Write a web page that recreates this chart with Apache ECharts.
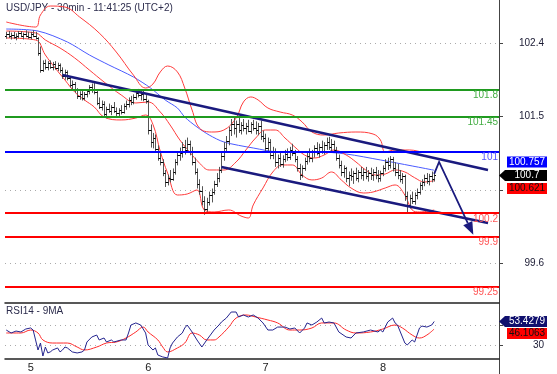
<!DOCTYPE html>
<html><head><meta charset="utf-8">
<script src="https://cdn.jsdelivr.net/npm/echarts@6/dist/echarts.min.js"></script>
<style>html,body{margin:0;padding:0;background:#fff}#c{width:557px;height:374px}</style>
</head><body><div id="c"></div>
<script>
const chartTitle = 'USD/JPY - 30min - 11:41:25 (UTC+2)';
const rsiTitle = 'RSI14 - 9MA';
const startDay = 4, startHour = 20, slotCount = 202;
const dayLabels = ['5', '6', '7', '8'];
const priceTicks = [99.55, 100.5, 101.45, 102.4];
const priceTickLabels = [99.55, 101.45, 102.4];
const rsiTicks = [30, 50];
const rsiTickLabels = [30];
const levelValues = [101.8, 101.45, 101, 100.2, 99.9, 99.25];
const levelLabels = ['101.8', '101.45', '101', '100.2', '99.9', '99.25'];
const levelKinds = ['res', 'res', 'pivot', 'sup', 'sup', 'sup'];
// [open, high, low, close]
const ohlc = [
[102.50,102.55,102.46,102.52],[102.52,102.56,102.47,102.49],[102.49,102.54,102.45,102.51],[102.51,102.55,102.46,102.48],
[102.48,102.53,102.44,102.50],[102.50,102.56,102.47,102.53],[102.53,102.56,102.48,102.49],[102.49,102.54,102.45,102.52],
[102.52,102.57,102.48,102.50],[102.50,102.55,102.46,102.48],[102.48,102.55,102.45,102.52],[102.52,102.57,102.48,102.50],
[102.50,102.55,102.45,102.47],[102.47,102.48,102.24,102.28],[102.28,102.36,102.02,102.06],[102.06,102.18,102.03,102.14],
[102.14,102.19,102.06,102.10],[102.10,102.17,102.05,102.15],[102.15,102.18,102.07,102.09],[102.09,102.16,102.05,102.13],
[102.13,102.17,102.06,102.08],[102.08,102.15,102.04,102.12],[102.12,102.14,102.02,102.05],[102.05,102.09,101.94,101.98],
[101.98,102.06,101.93,102.03],[102.03,102.05,101.92,101.95],[101.95,101.97,101.83,101.86],[101.86,101.92,101.80,101.88],
[101.88,101.90,101.76,101.79],[101.79,101.82,101.68,101.72],[101.72,101.78,101.67,101.75],[101.75,101.79,101.66,101.69],
[101.69,101.77,101.66,101.74],[101.74,101.80,101.70,101.78],[101.78,101.86,101.74,101.83],[101.83,101.88,101.76,101.79],
[101.79,101.90,101.74,101.77],[101.77,101.79,101.60,101.63],[101.63,101.70,101.55,101.58],[101.58,101.66,101.53,101.62],
[101.62,101.65,101.45,101.49],[101.49,101.58,101.43,101.55],[101.55,101.62,101.50,101.53],[101.53,101.60,101.47,101.58],
[101.58,101.64,101.50,101.52],[101.52,101.57,101.46,101.50],[101.50,101.56,101.45,101.54],[101.54,101.60,101.48,101.51],
[101.51,101.62,101.49,101.59],[101.59,101.66,101.54,101.62],[101.62,101.70,101.57,101.67],[101.67,101.72,101.60,101.64],
[101.64,101.74,101.61,101.71],[101.71,101.79,101.67,101.76],[101.76,101.81,101.70,101.73],[101.73,101.78,101.66,101.75],
[101.75,101.79,101.65,101.68],[101.68,101.73,101.62,101.66],[101.66,101.67,101.22,101.28],[101.28,101.35,101.05,101.12],
[101.12,101.24,101.04,101.18],[101.18,101.22,101.00,101.03],[101.03,101.08,100.88,100.92],[100.92,100.98,100.82,100.86],
[100.86,100.90,100.68,100.72],[100.72,100.76,100.54,100.60],[100.60,100.70,100.56,100.66],[100.66,100.76,100.60,100.64],
[100.64,100.78,100.62,100.74],[100.74,100.90,100.70,100.86],[100.86,101.00,100.82,100.95],[100.95,101.05,100.88,100.98],
[100.98,101.12,100.92,101.06],[101.06,101.15,100.96,101.02],[101.02,101.18,100.98,101.10],[101.10,101.14,100.95,100.99],
[100.99,101.06,100.82,100.86],[100.86,100.92,100.70,100.74],[100.74,100.78,100.52,100.58],[100.58,100.64,100.44,100.49],
[100.49,100.55,100.30,100.36],[100.36,100.42,100.18,100.26],[100.26,100.40,100.22,100.34],[100.34,100.48,100.30,100.44],
[100.44,100.52,100.34,100.48],[100.48,100.62,100.44,100.58],[100.58,100.72,100.54,100.66],[100.66,100.80,100.60,100.76],
[100.76,100.98,100.72,100.94],[100.94,101.12,100.88,101.05],[101.05,101.20,101.00,101.14],[101.14,101.32,101.08,101.28],
[101.28,101.42,101.20,101.36],[101.36,101.44,101.22,101.30],[101.30,101.40,101.18,101.35],[101.35,101.44,101.24,101.28],
[101.28,101.38,101.22,101.34],[101.34,101.42,101.26,101.30],[101.30,101.37,101.22,101.33],[101.33,101.41,101.25,101.27],
[101.27,101.38,101.23,101.35],[101.35,101.41,101.27,101.31],[101.31,101.39,101.22,101.28],[101.28,101.37,101.21,101.33],
[101.33,101.40,101.15,101.20],[101.20,101.27,101.12,101.17],[101.17,101.23,100.99,101.05],[101.05,101.18,100.98,101.12],
[101.12,101.16,100.90,100.96],[100.96,101.06,100.90,101.01],[101.01,101.04,100.80,100.86],[100.86,100.96,100.78,100.92],
[100.92,100.98,100.80,100.84],[100.84,100.95,100.79,100.90],[100.90,101.02,100.86,100.97],[100.97,101.04,100.88,100.93],
[100.93,101.06,100.89,101.02],[101.02,101.10,100.94,100.98],[100.98,101.02,100.86,100.90],[100.90,100.94,100.74,100.78],
[100.78,100.84,100.63,100.70],[100.70,100.82,100.66,100.79],[100.79,100.92,100.75,100.88],[100.88,100.98,100.83,100.94],
[100.94,101.04,100.86,100.91],[100.91,101.02,100.86,100.99],[100.99,101.08,100.92,101.04],[101.04,101.12,100.95,100.98],
[100.98,101.10,100.92,101.06],[101.06,101.14,100.97,101.01],[101.01,101.12,100.96,101.08],[101.08,101.18,101.02,101.12],
[101.12,101.19,101.02,101.06],[101.06,101.16,101.00,101.10],[101.10,101.14,100.98,101.02],[101.02,101.06,100.88,100.92],
[100.92,100.96,100.78,100.82],[100.82,100.88,100.68,100.74],[100.74,100.82,100.66,100.78],[100.78,100.80,100.60,100.66],
[100.66,100.74,100.55,100.70],[100.70,100.78,100.62,100.68],[100.68,100.75,100.58,100.72],[100.72,100.79,100.62,100.66],
[100.66,100.76,100.60,100.73],[100.73,100.80,100.64,100.70],[100.70,100.78,100.62,100.74],[100.74,100.80,100.64,100.68],
[100.68,100.76,100.61,100.72],[100.72,100.79,100.63,100.69],[100.69,100.77,100.62,100.74],[100.74,100.80,100.64,100.70],
[100.70,100.76,100.60,100.66],[100.66,100.75,100.61,100.72],[100.72,100.82,100.68,100.78],[100.78,100.90,100.74,100.86],
[100.86,100.92,100.76,100.82],[100.82,100.94,100.78,100.90],[100.90,100.93,100.74,100.78],[100.78,100.86,100.68,100.74],
[100.74,100.84,100.64,100.70],[100.70,100.76,100.60,100.64],[100.64,100.72,100.58,100.68],[100.68,100.70,100.36,100.42],
[100.42,100.48,100.21,100.30],[100.30,100.44,100.26,100.40],[100.40,100.48,100.32,100.36],[100.36,100.47,100.31,100.44],
[100.44,100.52,100.38,100.48],[100.48,100.60,100.44,100.56],[100.56,100.64,100.50,100.60],[100.60,100.70,100.55,100.66],
[100.66,100.72,100.58,100.62],[100.62,100.71,100.56,100.68],[100.68,100.74,100.60,100.64],[100.64,100.73,100.61,100.70]
];
// Bollinger bands and moving average, [bar index, price]
const bbUpper = [[0,102.677],[12,102.612],[14,102.768],[18,102.884],[24,102.871],[30,102.742],[38,102.535],[45,102.288],[52,101.99],[57,101.822],[60,101.874],[63,102.03],[66,102.107],[70,102.03],[73,101.822],[76,101.537],[79,101.304],[84,101.252],[89,101.278],[94,101.433],[97,101.641],[100,101.706],[103,101.667],[107,101.563],[112,101.511],[117,101.472],[121,101.382],[125,101.252],[130,101.213],[136,101.239],[143,101.252],[150,101.226],[153,101.149],[155,100.993],[159,101.019],[165,101.019],[171,100.993],[175,100.993]];
const bbMiddle = [[0,102.56],[12,102.535],[16,102.444],[22,102.34],[28,102.211],[34,102.055],[40,101.9],[47,101.732],[53,101.628],[58,101.641],[63,101.511],[67,101.343],[71,101.149],[75,100.993],[79,100.851],[83,100.76],[89,100.76],[94,100.864],[98,101.019],[102,101.174],[106,101.278],[110,101.278],[114,101.174],[118,101.058],[122,100.954],[126,100.915],[130,100.954],[134,101.019],[139,100.954],[143,100.864],[147,100.76],[151,100.695],[155,100.708],[159,100.76],[163,100.734],[167,100.66],[171,100.605],[175,100.621]];
const bbLower = [[0,102.47],[12,102.444],[16,102.25],[20,102.081],[24,101.926],[28,101.77],[32,101.667],[36,101.576],[40,101.446],[47,101.408],[53,101.433],[57,101.472],[60,101.35],[63,101.0],[66,100.72],[70,100.436],[74,100.449],[78,100.501],[81,100.242],[85,100.216],[91,100.242],[96,100.164],[99,100.138],[101,100.307],[105,100.527],[109,100.734],[113,100.825],[117,100.825],[121,100.695],[125,100.631],[129,100.656],[133,100.734],[137,100.631],[141,100.527],[146,100.462],[150,100.475],[155,100.527],[159,100.566],[163,100.436],[166,100.242],[169,100.216],[175,100.242]];
const maSlow = [[0,102.586],[13,102.56],[25,102.418],[34,102.25],[42,102.12],[52,101.965],[59,101.822],[65,101.667],[70,101.563],[73,101.446],[78,101.317],[83,101.213],[89,101.123],[101,101.045],[112,100.993],[128,100.993],[139,100.967],[153,100.89],[166,100.812],[175,100.757]];
const upperChannel = [[23,101.99],[197,100.76]];
const lowerChannel = [[88,100.798],[197,100.073]];
const arrowPath = [[175,100.71],[177,100.864],[191,99.92]];
const rsi = [[0,45.1],[2,42.2],[4,44.1],[6,43.2],[8,46.1],[10,47.1],[11,45.1],[12,35.4],[13,25.6],[14,32.4],[15,19.7],[16,28.5],[17,22.7],[18,23.7],[19,25.6],[21,27.6],[22,23.7],[23,25.6],[24,28.5],[25,27.6],[27,23.7],[29,22.7],[31,23.7],[32,25.6],[33,33.4],[35,38.3],[37,40.2],[38,35.4],[40,37.3],[41,33.4],[43,35.4],[44,33.4],[47,35.4],[49,35.4],[50,42.2],[51,50.0],[53,52.0],[55,50.0],[57,42.2],[58,30.5],[60,25.6],[61,27.6],[62,20.7],[64,18.8],[66,17.8],[67,27.6],[68,32.4],[70,38.3],[72,42.2],[73,47.1],[74,50.0],[76,43.2],[78,35.4],[80,28.5],[82,35.4],[85,45.1],[87,50.0],[88,52.9],[90,56.8],[92,62.7],[94,62.7],[95,57.8],[97,59.8],[99,57.8],[101,59.8],[103,56.8],[105,52.0],[107,45.1],[109,45.1],[111,48.0],[114,48.0],[116,46.1],[118,47.1],[120,42.2],[122,47.1],[123,52.0],[125,50.0],[127,52.9],[129,56.8],[130,52.0],[132,52.9],[134,52.0],[136,43.2],[139,38.3],[141,37.3],[143,42.2],[146,43.2],[149,45.1],[152,43.2],[153,45.1],[154,43.2],[156,52.9],[158,56.8],[159,52.0],[160,50.0],[162,38.3],[163,32.4],[164,30.5],[166,35.4],[167,33.4],[169,47.1],[170,49.0],[172,48.0],[174,50.0],[175,53.4279]];
const rsiMa = [[0,42.2],[6,42.2],[10,45.1],[13,42.2],[15,35.4],[19,32.4],[25,32.4],[29,28.5],[32,25.6],[37,28.5],[41,32.4],[45,33.4],[49,37.3],[53,43.2],[56,48.0],[58,43.2],[62,35.4],[64,28.5],[66,23.7],[70,27.6],[73,32.4],[76,42.2],[79,40.2],[82,35.4],[85,35.4],[87,38.3],[91,48.0],[94,56.8],[98,59.8],[102,57.8],[107,54.9],[111,52.0],[116,45.1],[120,45.1],[125,47.1],[129,52.0],[134,52.0],[139,45.1],[143,42.2],[149,43.2],[154,46.1],[159,50.0],[162,47.1],[166,40.2],[169,37.3],[172,40.2],[175,46.1063]];
const priceTags = [
  {text:'100.757', kind:'blue'}, {text:'100.7', kind:'last'}, {text:'100.621', kind:'red'}
];
const rsiTags = [{text:'53.4279', kind:'navy'}, {text:'46.1063', kind:'red'}];

// ---- styles ----
const FONT = '"Liberation Sans", Arial, sans-serif';
const NAVY = '#1a1a7e';
const levelStyle = {
  res: {line:'#1f9a1f', label:'#45ad45'},
  pivot: {line:'#0000ff', label:'#5555ff'},
  sup: {line:'#ff0000', label:'#ff5555'}
};
const tagStyle = {
  blue:{bg:'#0000ff', fg:'#ffffff', arrow:false},
  last:{bg:'#000000', fg:'#ffffff', arrow:true},
  red:{bg:'#ff0000', fg:'#111111', arrow:false},
  navy:{bg:'#10106e', fg:'#ffffff', arrow:true}
};

const categories = [];
for (let i = 0; i < slotCount; i++) {
  const m = startHour * 60 + i * 30;
  const d = startDay + Math.floor(m / 1440);
  const mm = m % 1440;
  categories.push(d + ' ' + String(Math.floor(mm / 60)).padStart(2, '0') + ':' + String(mm % 60).padStart(2, '0'));
}
const isDayStart = (idx, val) => val.endsWith(' 00:00') && dayLabels.indexOf(val.split(' ')[0]) >= 0;
const near = (list, v) => list.some(t => Math.abs(t - v) < 1e-6);

const chart = echarts.init(document.getElementById('c'));

const tagGraphics = [];
function addTag(tag, yc) {
  const s = tagStyle[tag.kind];
  const h = 11, x0 = 507, x1 = 547;
  if (s.arrow) {
    tagGraphics.push({type:'polygon', z:100, shape:{points:[[499, yc],[505, yc - h/2],[x1, yc - h/2],[x1, yc + h/2],[505, yc + h/2]]}, style:{fill:s.bg}});
  } else {
    tagGraphics.push({type:'rect', z:100, shape:{x:x0, y:yc - h/2, width:x1 - x0, height:h}, style:{fill:s.bg}});
  }
  tagGraphics.push({type:'text', z:101, x:527, y:yc, style:{text:tag.text, fill:s.fg, font:'10px ' + FONT, align:'center', verticalAlign:'middle'}});
}
const priceTagY = [162, 175.5, 188.5];
priceTags.forEach((t, i) => addTag(t, priceTagY[i]));
const rsiTagY = [321.5, 333.5];
rsiTags.forEach((t, i) => addTag(t, rsiTagY[i]));

const lineS = (data, color, width, z, smooth, extra) => Object.assign({
  type:'line', data, xAxisIndex:0, yAxisIndex:0, symbol:'none', smooth: smooth,
  lineStyle:{color, width}, z, silent:true, animation:false
}, extra || {});

const option = {
  animation:false,
  grid:[
    {left:5, right:58, top:0, height:303},
    {left:5, right:58, top:303, height:56}
  ],
  xAxis:[
    {type:'category', gridIndex:0, data:categories, boundaryGap:true, show:false},
    {type:'category', gridIndex:1, data:categories, boundaryGap:true,
      axisLine:{lineStyle:{color:'#222', width:1.5}},
      axisTick:{alignWithLabel:true, interval:isDayStart, length:5, lineStyle:{color:'#222'}},
      axisLabel:{interval:isDayStart, formatter:(v) => v.split(' ')[0], align:'left', margin:3, padding:[0,0,0,2], fontSize:11, color:'#222', fontFamily:FONT},
      splitLine:{show:false}},
    {type:'category', gridIndex:1, data:categories, boundaryGap:true, position:'top',
      axisLine:{lineStyle:{color:'#222', width:1.5}}, axisTick:{show:false}, axisLabel:{show:false}}
  ],
  yAxis:[
    {type:'value', gridIndex:0, position:'right', min:99.037, max:102.962,
      axisLine:{show:true, lineStyle:{color:'#444'}},
      axisTick:{show:true, length:4, customValues:priceTicks, lineStyle:{color:'#444'}},
      axisLabel:{customValues:priceTickLabels, formatter:(v) => near(priceTickLabels, v) ? (Math.round(v * 10) / 10).toFixed(1) : '', align:'right', margin:45, color:'#1a1a33', fontSize:10, fontFamily:FONT},
      splitLine:{show:true, lineStyle:{type:[1,4], color:'#aaaaaa'}}},
    {type:'value', gridIndex:1, position:'right', min:16.8, max:71.5,
      axisLine:{show:true, lineStyle:{color:'#444'}},
      axisTick:{show:true, length:4, customValues:rsiTicks, lineStyle:{color:'#444'}},
      axisLabel:{customValues:rsiTickLabels, formatter:(v) => near(rsiTickLabels, v) ? String(v) : '', align:'right', margin:45, color:'#1a1a33', fontSize:10, fontFamily:FONT},
      splitLine:{show:true, lineStyle:{type:[1,4], color:'#aaaaaa'}}}
  ],
  graphic:[
    {type:'text', left:6, top:3, style:{text:chartTitle, font:'10px ' + FONT, fill:'#2d2d4d'}},
    {type:'text', left:6, top:306, style:{text:rsiTitle, font:'10px ' + FONT, fill:'#2d2d4d'}},
    {type:'line', shape:{x1:499.5, y1:359, x2:499.5, y2:374}, style:{stroke:'#444', lineWidth:1}}
  ].concat(tagGraphics),
  series:[
    lineS(maSlow, '#4a5aff', 1, 2, 0.3, {markLine:{
      symbol:'none', silent:true, animation:false,
      data: levelValues.map((v, i) => ({
        yAxis:v,
        lineStyle:{color:levelStyle[levelKinds[i]].line, width:2, type:'solid'},
        label:{show:true, position:'insideEndBottom', formatter:levelLabels[i], color:levelStyle[levelKinds[i]].label, fontSize:10, fontFamily:FONT, distance:[1, 1]}
      }))
    }}),
    lineS(bbUpper, '#ff3b3b', 1, 2, 0.4),
    lineS(bbMiddle, '#ff3b3b', 1, 2, 0.4),
    lineS(bbLower, '#ff3b3b', 1, 2, 0.4),
    {type:'custom', xAxisIndex:0, yAxisIndex:0, z:3, silent:true, animation:false,
      data: ohlc.map((d, i) => [i, d[0], d[1], d[2], d[3]]),
      encode:{x:0, y:[1,2,3,4]},
      renderItem:(params, api) => {
        const i = api.value(0);
        const o = api.coord([i, api.value(1)]);
        const h = api.coord([i, api.value(2)]);
        const l = api.coord([i, api.value(3)]);
        const c = api.coord([i, api.value(4)]);
        const xc = Math.round(o[0]) + 0.5;
        return {type:'group', children:[
          {type:'line', shape:{x1:xc, y1:h[1], x2:xc, y2:l[1]}, style:{stroke:'#555555', lineWidth:1}},
          {type:'line', shape:{x1:xc - 1.5, y1:Math.round(o[1]) + 0.5, x2:xc, y2:Math.round(o[1]) + 0.5}, style:{stroke:'#000', lineWidth:1}},
          {type:'line', shape:{x1:xc, y1:Math.round(c[1]) + 0.5, x2:xc + 1.5, y2:Math.round(c[1]) + 0.5}, style:{stroke:'#000', lineWidth:1}}
        ]};
      }},
    lineS(upperChannel, NAVY, 2.5, 4, false),
    lineS(lowerChannel, NAVY, 2.5, 4, false),
    {type:'custom', xAxisIndex:0, yAxisIndex:0, z:5, silent:true, animation:false,
      data:[[arrowPath[0][0], arrowPath[0][1]]],
      renderItem:(params, api) => {
        const pts = arrowPath.map(p => api.coord(p));
        const n = pts.length;
        const [x1, y1] = pts[n - 2], [x2, y2] = pts[n - 1];
        const ang = Math.atan2(y2 - y1, x2 - x1);
        const L = 13, W = 5;
        const bx = x2 - L * Math.cos(ang), by = y2 - L * Math.sin(ang);
        const px = -Math.sin(ang) * W, py = Math.cos(ang) * W;
        return {type:'group', children:[
          {type:'polyline', shape:{points:pts.slice(0, n - 1).concat([[bx, by]])}, style:{stroke:NAVY, lineWidth:1.8, fill:null}},
          {type:'polygon', shape:{points:[[x2, y2],[bx + px, by + py],[bx - px, by - py]]}, style:{fill:NAVY}}
        ]};
      }},
    {type:'line', xAxisIndex:1, yAxisIndex:1, data:rsi, symbol:'none', lineStyle:{color:'#25258f', width:1}, z:3, silent:true},
    {type:'line', xAxisIndex:1, yAxisIndex:1, data:rsiMa, symbol:'none', smooth:0.4, lineStyle:{color:'#ff2a2a', width:1}, z:2, silent:true}
  ]
};
chart.setOption(option);
</script>
</body></html>
